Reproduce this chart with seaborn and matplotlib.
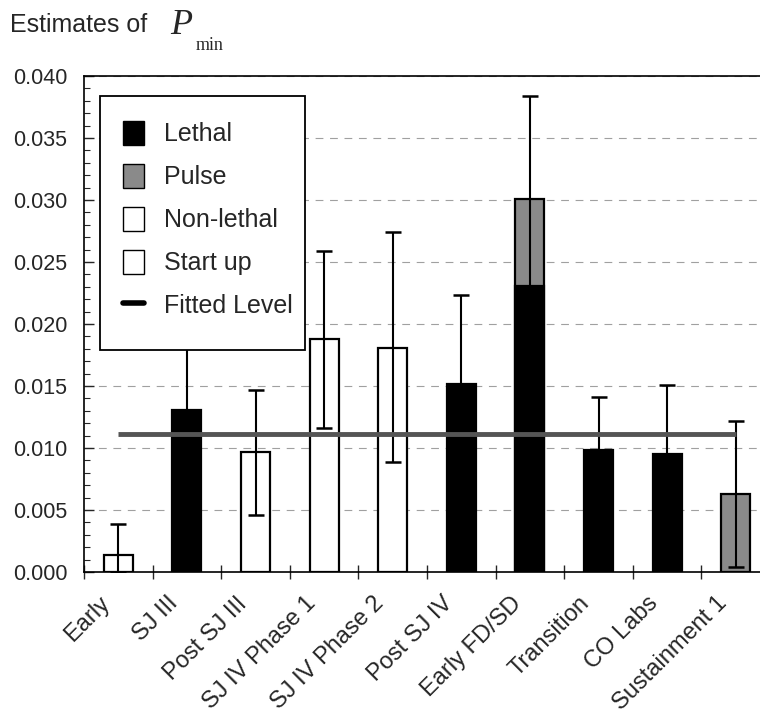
import numpy as np
import pandas as pd
import matplotlib
matplotlib.use('Agg')
import matplotlib.pyplot as plt
import matplotlib.transforms as mtransforms
import seaborn as sns
from matplotlib.patches import Patch, Rectangle
from matplotlib.lines import Line2D
from matplotlib.ticker import MultipleLocator, FormatStrFormatter

# 各阶段的估计值
categories = ['Early', 'SJ III', 'Post SJ III', 'SJ IV Phase 1', 'SJ IV Phase 2',
              'Post SJ IV', 'Early FD/SD', 'Transition', 'CO Labs', 'Sustainment 1']
kinds = ['Start up', 'Lethal', 'Non-lethal', 'Non-lethal', 'Non-lethal',
         'Lethal', 'Pulse', 'Lethal', 'Lethal', 'Pulse']
totals = [0.0014, 0.0131, 0.0097, 0.0188, 0.0181, 0.0152, 0.0301, 0.0098, 0.0095, 0.0063]
# Early FD/SD 的 Lethal 部分（叠在 Pulse 下面）
lethal_segment = [np.nan, np.nan, np.nan, np.nan, np.nan, np.nan, 0.0231, np.nan, np.nan, np.nan]
upper_limits = [0.0039, 0.0214, 0.0147, 0.0259, 0.0274, 0.0223, 0.0384, 0.0141, 0.0151, 0.0122]
lower_limits = [0.0000, 0.0048, 0.0046, 0.0116, 0.0089, 0.0081, 0.0218, 0.0055, 0.0039, 0.0004]
fitted_level = 0.0111

kind_colors = {'Lethal': 'black', 'Pulse': '#8a8a8a', 'Non-lethal': 'white', 'Start up': 'white'}

df = pd.DataFrame({'stage': categories, 'kind': kinds, 'value': totals})
df_seg = pd.DataFrame({'stage': categories, 'value': lethal_segment})

sns.set_style('white')
plt.rcParams['font.family'] = ['Liberation Sans', 'DejaVu Sans']

fig = plt.figure(figsize=(7.6, 7.23), dpi=100)
ax = fig.add_axes([84 / 760, 151 / 723, 686 / 760, 496 / 723])

# 横向虚线网格
for yv in np.arange(0.005, 0.040, 0.005):
    ax.axhline(yv, color='#a0a0a0', lw=0.8, ls=(0, (7, 6)), zorder=0)

bar_w = 0.42
sns.barplot(data=df, x='stage', y='value', hue='kind', order=categories,
            palette=kind_colors, dodge=False, width=bar_w, edgecolor='black',
            linewidth=1.6, legend=False, ax=ax, zorder=2)
sns.barplot(data=df_seg, x='stage', y='value', order=categories, color='black',
            width=bar_w, edgecolor='black', linewidth=1.6, ax=ax, zorder=3)

xs = np.arange(len(categories))
tot = np.array(totals)
yerr = [tot - np.array(lower_limits), np.array(upper_limits) - tot]
ax.errorbar(xs, tot, yerr=yerr, fmt='none', ecolor='black', elinewidth=1.5,
            capsize=6, capthick=1.8, zorder=4)

# 拟合水平线
ax.plot([xs[0], xs[-1]], [fitted_level, fitted_level], color='#555555', lw=3.5, zorder=5,
        solid_capstyle='butt')

ax.set_xlim(-0.5, len(categories) - 0.5)
ax.set_ylim(0, 0.040)
ax.yaxis.set_major_locator(MultipleLocator(0.005))
ax.yaxis.set_minor_locator(MultipleLocator(0.001))
ax.yaxis.set_major_formatter(FormatStrFormatter('%.3f'))
ax.tick_params(axis='y', which='major', direction='in', length=7, width=1, labelsize=15.5, pad=12, left=True)
ax.tick_params(axis='y', which='minor', direction='in', length=4, width=0.8, left=True)

ax.set_xticks(xs)
ax.set_xticklabels(categories, rotation=45, ha='right', va='center',
                   rotation_mode='anchor', fontsize=17)
ax.set_xticks(np.arange(-0.5, len(categories) + 0.5, 1.0), minor=True)
ax.tick_params(axis='x', which='major', length=0, pad=24)
ax.tick_params(axis='x', which='minor', direction='inout', length=10, width=1, bottom=True)
shift = mtransforms.ScaledTranslation(-0.12, 0.05, fig.dpi_scale_trans)
for lab in ax.get_xticklabels():
    lab.set_transform(lab.get_transform() + shift)
ax.set_xlabel('')
ax.set_ylabel('')

for side in ['left', 'bottom', 'top']:
    ax.spines[side].set_color('black')
    ax.spines[side].set_linewidth(1.2)
ax.spines['right'].set_visible(False)

# 图例外框单独画，便于控制大小
ax.add_patch(Rectangle((0.0233, 0.4476), 0.2989, 0.5121, transform=ax.transAxes,
                       facecolor='white', edgecolor='black', lw=1.3, zorder=9))
handles = [Patch(facecolor='black', edgecolor='black'),
           Patch(facecolor='#8a8a8a', edgecolor='black'),
           Patch(facecolor='white', edgecolor='black'),
           Patch(facecolor='white', edgecolor='black'),
           Line2D([0], [0], color='black', lw=4)]
labels = ['Lethal', 'Pulse', 'Non-lethal', 'Start up', 'Fitted Level']
leg = ax.legend(handles, labels, loc='upper left', bbox_to_anchor=(0.0569, 0.91),
                fontsize=18, frameon=False, handlelength=0.85, handleheight=1.1,
                handletextpad=0.8, labelspacing=0.7, borderpad=0, borderaxespad=0)
leg.set_zorder(10)

# 标题 Estimates of P_min
fig.text(10 / 760, 1 - 25 / 723, 'Estimates of', fontsize=18, va='center', ha='left')
fig.text(170 / 760, 1 - 26 / 723, 'P', fontsize=26, va='center', ha='left',
         family='Liberation Serif', style='italic')
fig.text(196 / 760, 1 - 46 / 723, 'min', fontsize=13, va='center', ha='left',
         family='Liberation Serif')

fig.savefig('out.png', dpi=100)
